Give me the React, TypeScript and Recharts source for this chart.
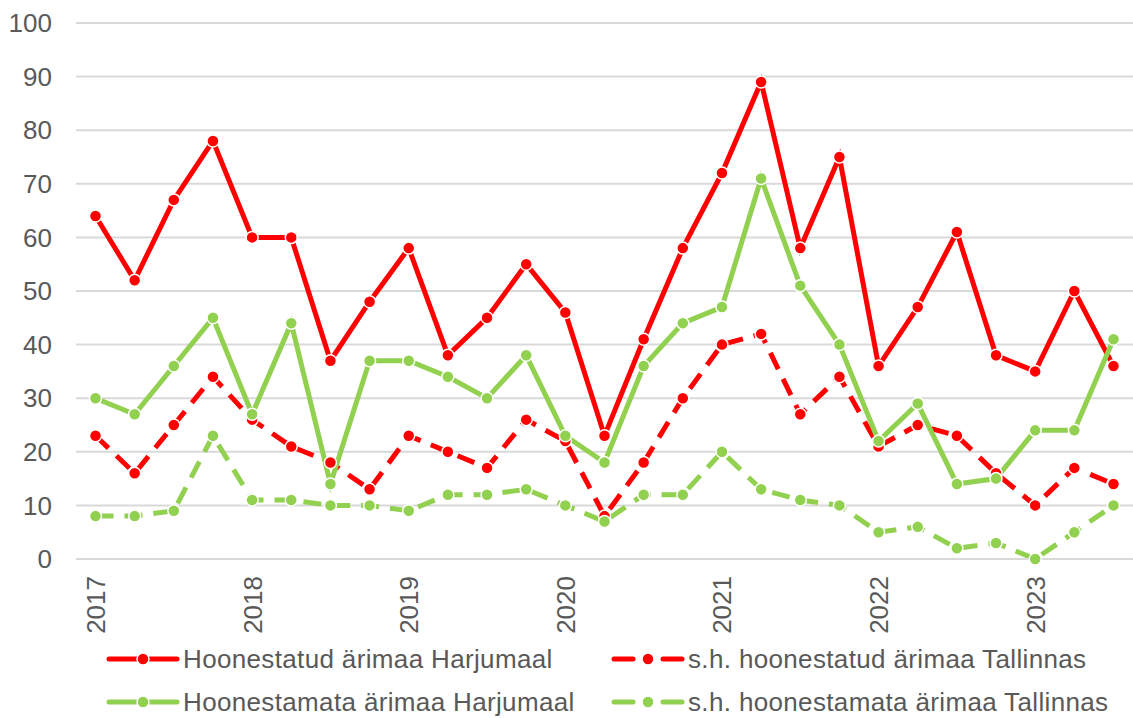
import { LineChart, Line, XAxis, YAxis, CartesianGrid } from 'recharts'

const periods = [
  '2017 I', '2017 II', '2017 III', '2017 IV',
  '2018 I', '2018 II', '2018 III', '2018 IV',
  '2019 I', '2019 II', '2019 III', '2019 IV',
  '2020 I', '2020 II', '2020 III', '2020 IV',
  '2021 I', '2021 II', '2021 III', '2021 IV',
  '2022 I', '2022 II', '2022 III', '2022 IV',
  '2023 I', '2023 II', '2023 III',
]

const harjuBuilt = [64, 52, 67, 78, 60, 60, 37, 48, 58, 38, 45, 55, 46, 23, 41, 58, 72, 89, 58, 75, 36, 47, 61, 38, 35, 50, 36]
const tallinnBuilt = [23, 16, 25, 34, 26, 21, 18, 13, 23, 20, 17, 26, 22, 8, 18, 30, 40, 42, 27, 34, 21, 25, 23, 16, 10, 17, 14]
const harjuUnbuilt = [30, 27, 36, 45, 27, 44, 14, 37, 37, 34, 30, 38, 23, 18, 36, 44, 47, 71, 51, 40, 22, 29, 14, 15, 24, 24, 41]
const tallinnUnbuilt = [8, 8, 9, 23, 11, 11, 10, 10, 9, 12, 12, 13, 10, 7, 12, 12, 20, 13, 11, 10, 5, 6, 2, 3, 0, 5, 10]

const yTicks = [0, 10, 20, 30, 40, 50, 60, 70, 80, 90, 100]

const RED = '#FF0000'
const GREEN = '#92D050'
const TEXT = '#595959'
const GRID = '#D9D9D9'
const FONT = 'Arial, "Liberation Sans", sans-serif'
const FS = 26

const series = [
  { key: 'harjuBuilt', name: 'Hoonestatud ärimaa Harjumaal', color: RED, dashed: false },
  { key: 'tallinnBuilt', name: 's.h. hoonestatud ärimaa Tallinnas', color: RED, dashed: true },
  { key: 'harjuUnbuilt', name: 'Hoonestamata ärimaa Harjumaal', color: GREEN, dashed: false },
  { key: 'tallinnUnbuilt', name: 's.h. hoonestamata ärimaa Tallinnas', color: GREEN, dashed: true },
]

const data = periods.map((p, i) => ({
  period: p,
  harjuBuilt: harjuBuilt[i],
  tallinnBuilt: tallinnBuilt[i],
  harjuUnbuilt: harjuUnbuilt[i],
  tallinnUnbuilt: tallinnUnbuilt[i],
}))

if (typeof document !== 'undefined') document.body.style.margin = '0'

const YearTick = (props: any) => {
  const { x, y, payload } = props
  const v: string = payload.value
  if (!v.endsWith(' I')) return null
  return (
    <text
      x={0}
      y={0}
      transform={`translate(${x + 9.5},${y + 9}) rotate(-90)`}
      textAnchor="end"
      fill={TEXT}
      fontSize={FS}
      fontFamily={FONT}
    >
      {v.split(' ')[0]}
    </text>
  )
}

const LegendIcon = ({ color, dashed }: { color: string; dashed: boolean }) => (
  <svg width={74} height={20} style={{ display: 'block' }}>
    {dashed ? (
      <>
        <line x1={3} y1={10} x2={22} y2={10} stroke={color} strokeWidth={5} strokeLinecap="round" />
        <line x1={52} y1={10} x2={71} y2={10} stroke={color} strokeWidth={5} strokeLinecap="round" />
      </>
    ) : (
      <line x1={3} y1={10} x2={71} y2={10} stroke={color} strokeWidth={5} strokeLinecap="round" />
    )}
    <circle cx={37} cy={10} r={6} fill={color} stroke="#fff" strokeWidth={1.5} />
  </svg>
)

const CustomLegend = () => {
  const pos = [
    { left: 106, top: 659 },
    { left: 611, top: 659 },
    { left: 106, top: 702 },
    { left: 611, top: 702 },
  ]
  return (
    <>
      {series.map((s, i) => (
        <div
          key={s.key}
          style={{
            position: 'absolute',
            left: pos[i].left,
            top: pos[i].top,
            transform: 'translateY(-50%)',
            display: 'flex',
            alignItems: 'center',
            fontFamily: FONT,
            fontSize: FS,
            letterSpacing: 0.35,
            color: TEXT,
            whiteSpace: 'nowrap',
            lineHeight: 1,
          }}
        >
          <LegendIcon color={s.color} dashed={s.dashed} />
          <span style={{ marginLeft: 3 }}>{s.name}</span>
        </div>
      ))}
    </>
  )
}

export default function App() {
  return (
    <div style={{ position: 'relative', width: 1133, height: 718, background: '#fff', overflow: 'hidden' }}>
      <LineChart width={1133} height={718} data={data} margin={{ top: 23, right: 0, left: 0, bottom: 89 }}>
        <CartesianGrid vertical={false} stroke={GRID} strokeWidth={2} />
        <XAxis
          dataKey="period"
          interval={0}
          tick={<YearTick />}
          tickLine={false}
          axisLine={{ stroke: GRID, strokeWidth: 2 }}
          padding={{ left: 19.5, right: 19.5 }}
          height={70}
        />
        <YAxis
          domain={[0, 100]}
          ticks={yTicks}
          interval={0}
          width={76}
          tickLine={false}
          axisLine={false}
          tickSize={0}
          tickMargin={24}
          tick={{ fill: TEXT, fontSize: FS, fontFamily: FONT }}
        />
        {series.map((s) => (
          <Line
            key={s.key}
            type="linear"
            dataKey={s.key}
            name={s.name}
            stroke={s.color}
            strokeWidth={5}
            strokeDasharray={s.dashed ? '18 11' : undefined}
            dot={{ r: 6, fill: s.color, stroke: '#fff', strokeWidth: 1.5, strokeDasharray: '' }}
            activeDot={false}
            isAnimationActive={false}
          />
        ))}
      </LineChart>
      <CustomLegend />
    </div>
  )
}
